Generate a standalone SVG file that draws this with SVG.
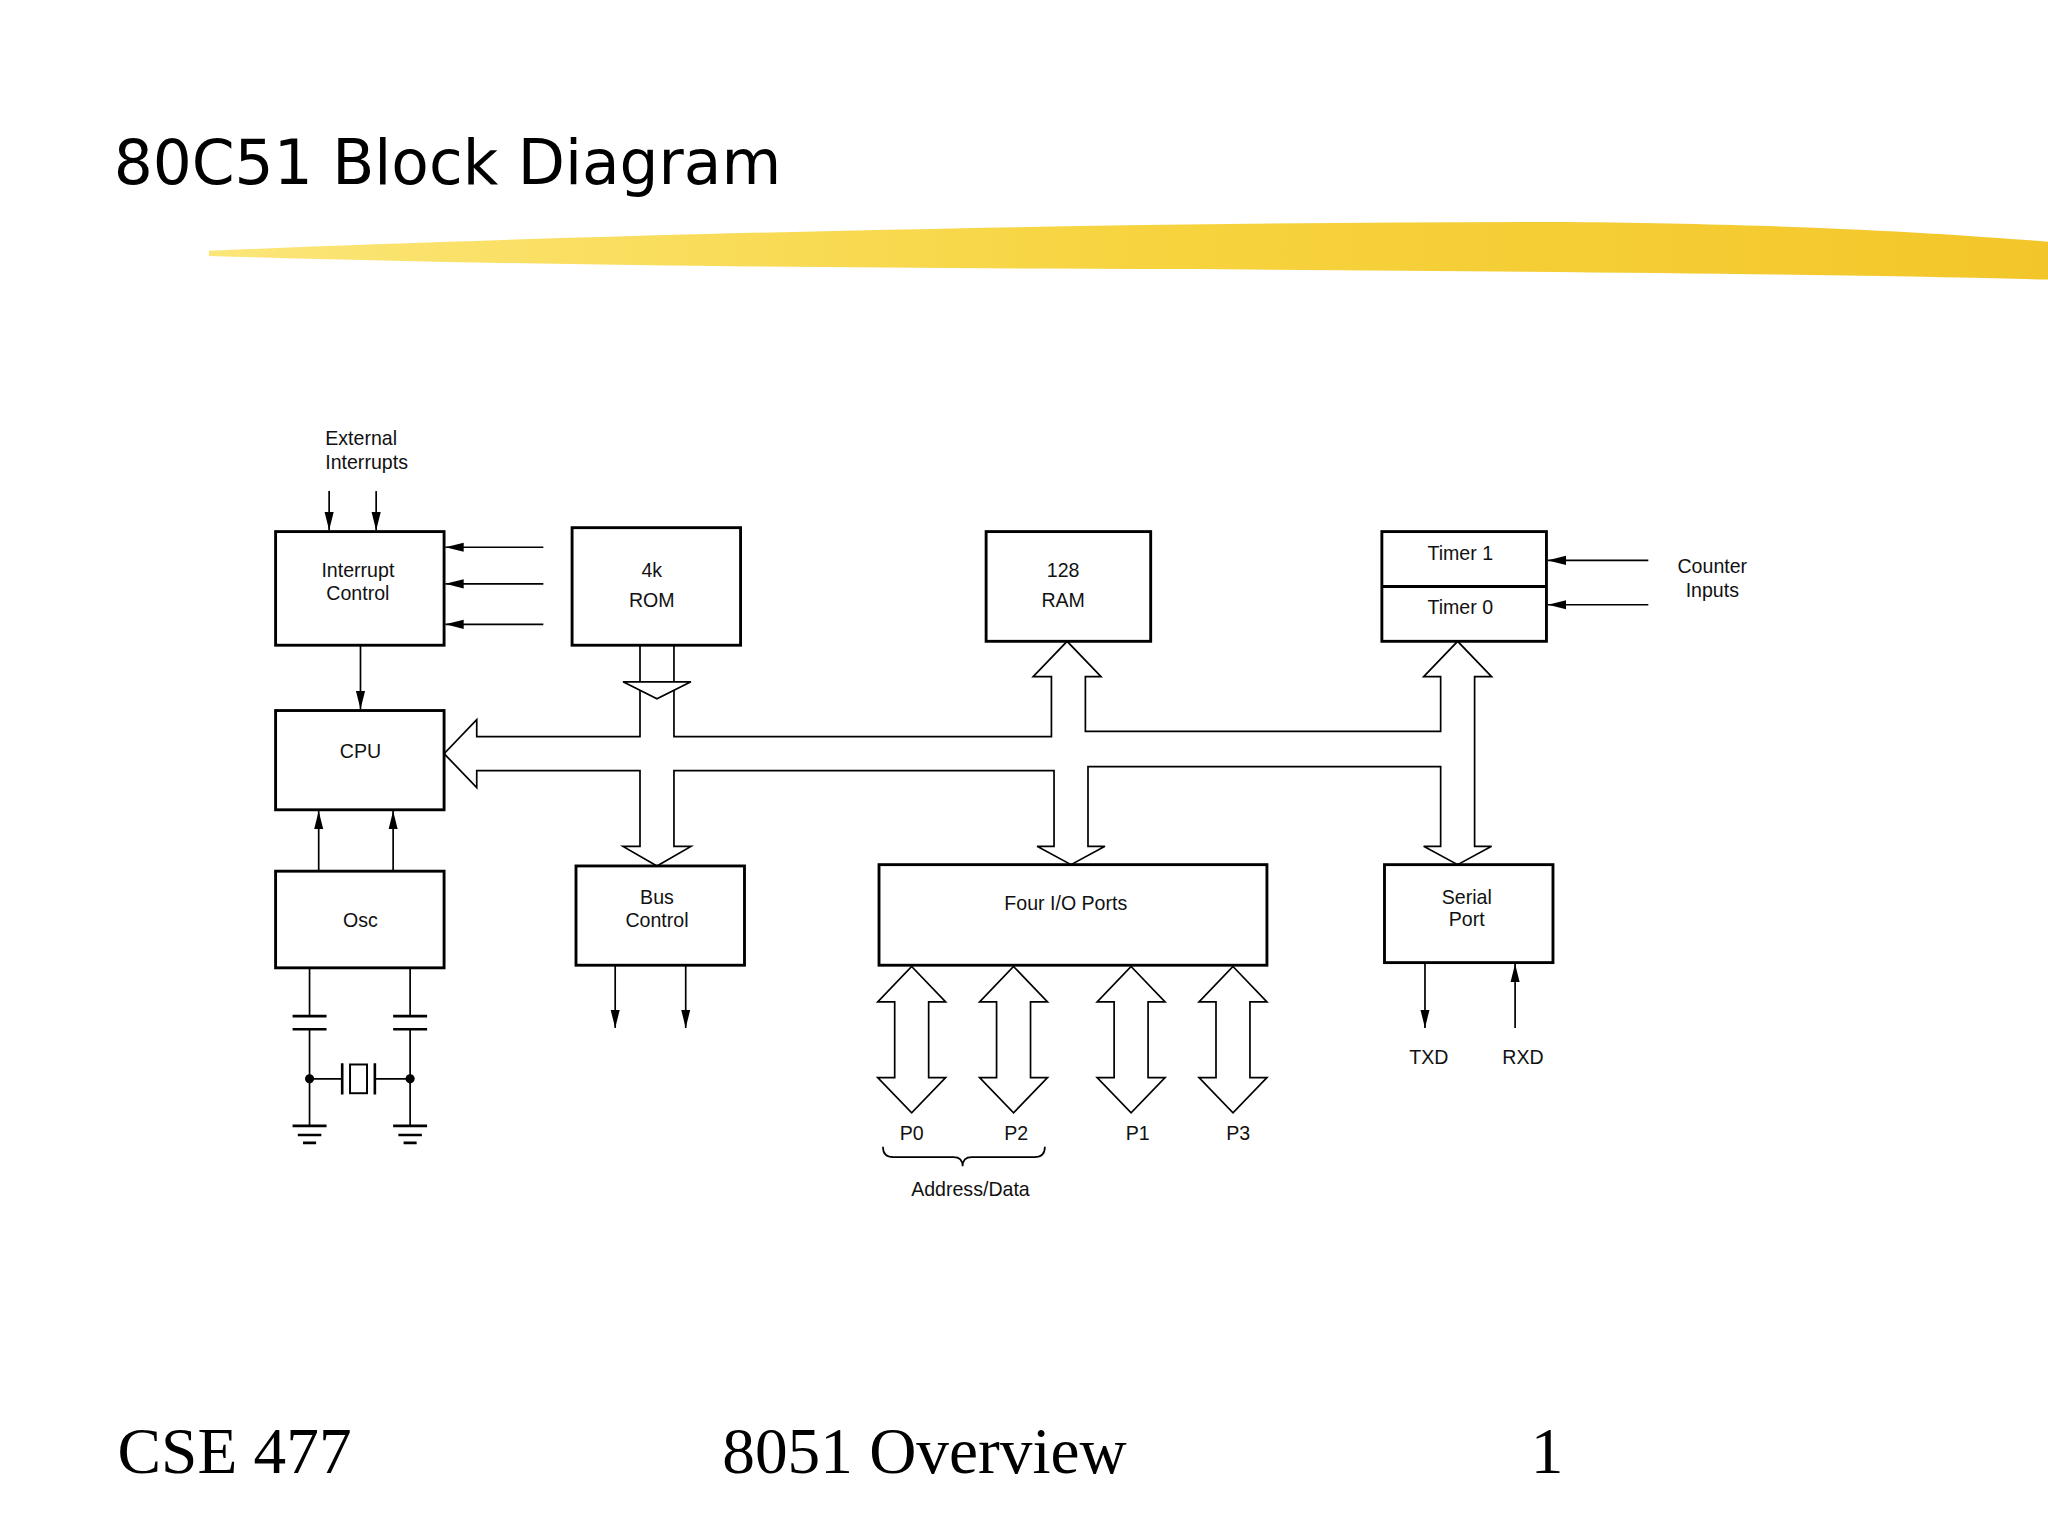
<svg xmlns="http://www.w3.org/2000/svg" width="2048" height="1535" viewBox="0 0 2048 1535">
<style>
.b{fill:#fff;stroke:#000;stroke-width:2.2}
.l{fill:none;stroke:#000;stroke-width:1.3}
.h{fill:#fff;stroke:#000;stroke-width:1.3}
.t{font-family:"Liberation Sans",Arial,sans-serif;font-size:15px;text-anchor:middle;fill:#111}
.f{font-family:"Liberation Serif","Times New Roman",serif;font-size:50px;fill:#000}
</style>
<defs>
<marker id="a" viewBox="0 0 14 8" refX="14" refY="4" markerWidth="14" markerHeight="8" orient="auto" markerUnits="userSpaceOnUse"><path d="M0,0.5 L14,4 L0,7.5 Z" fill="#000"/></marker>
<linearGradient id="y" x1="0" x2="1"><stop offset="0" stop-color="#fbe36a"/><stop offset="0.5" stop-color="#f6cf2a"/><stop offset="1" stop-color="#f1c012"/></linearGradient>
</defs>
<rect width="2048" height="1535" fill="#fff"/>
<g transform="scale(1.30612)">
<text x="87" y="141" style="font-family:'DejaVu Sans',sans-serif;font-size:47px" fill="#000">80C51 Block Diagram</text>
<path d="M160,192 C400,182 800,170 1200,170 C1400,172 1500,180 1568,185 L1568,214 C1400,210 1200,208 900,206 C600,205 400,203 160,196 Z" fill="url(#y)" opacity="0.9"/>
<text class="f" x="90" y="1128">CSE 477</text>
<text class="f" x="553" y="1128">8051 Overview</text>
<text class="f" x="1172" y="1128">1</text>

<g id="connectors">
<line class="l" x1="252" y1="376" x2="252" y2="406" marker-end="url(#a)"/>
<line class="l" x1="288" y1="376" x2="288" y2="406" marker-end="url(#a)"/>
<line class="l" x1="416" y1="419" x2="341" y2="419" marker-end="url(#a)"/>
<line class="l" x1="416" y1="447" x2="341" y2="447" marker-end="url(#a)"/>
<line class="l" x1="416" y1="478" x2="341" y2="478" marker-end="url(#a)"/>
<line class="l" x1="276" y1="494" x2="276" y2="543" marker-end="url(#a)"/>
<line class="l" x1="244" y1="667" x2="244" y2="621" marker-end="url(#a)"/>
<line class="l" x1="301" y1="667" x2="301" y2="621" marker-end="url(#a)"/>
<line class="l" x1="471" y1="739" x2="471" y2="787" marker-end="url(#a)"/>
<line class="l" x1="525" y1="739" x2="525" y2="787" marker-end="url(#a)"/>
<line class="l" x1="1091" y1="737" x2="1091" y2="787" marker-end="url(#a)"/>
<line class="l" x1="1160" y1="787" x2="1160" y2="738" marker-end="url(#a)"/>
<line class="l" x1="1262" y1="429" x2="1185" y2="429" marker-end="url(#a)"/>
<line class="l" x1="1262" y1="463" x2="1185" y2="463" marker-end="url(#a)"/>
<path class="l" d="M490,494 V564 H365 V551 L340,577 L365,603 V590 H490 V648 H477 L503,663 L529,648 H516 V590 H807 V648 H794 L820,662 L846,648 H833 V587 H1103 V648 H1090 L1116,662 L1142,648 H1129 V518 H1142 L1116,491 L1090,518 H1103 V560 H831 V518 H843 L817,491 L791,518 H805 V564 H516 V494"/>
<path class="h" d="M477,522 H529 L503,535 Z"/>
<g id="ports">
<path class="h" d="M698,740 L724,767 H711 V825 H724 L698,852 L672,825 H685 V767 H672 Z"/>
<path class="h" d="M776,740 L802,767 H789 V825 H802 L776,852 L750,825 H763 V767 H750 Z"/>
<path class="h" d="M866,740 L892,767 H879 V825 H892 L866,852 L840,825 H853 V767 H840 Z"/>
<path class="h" d="M944,740 L970,767 H957 V825 H970 L944,852 L918,825 H931 V767 H918 Z"/>
</g>
<path class="l" d="M676,878 Q676,886 684,886 H730 Q737,886 737,893 Q737,886 744,886 H792 Q800,886 800,878"/>
<path class="l" d="M237,741 V778 M237,788 V862 M314,741 V778 M314,788 V862 M237,826 H262 M287,826 H314"/>
<path class="l" style="stroke-width:2" d="M224,778 H250 M224,788 H250 M301,778 H327 M301,788 H327 M262,814 V838 M287,814 V838 M224,862 H250 M228,869 H246 M232,875 H242 M301,862 H327 M305,869 H323 M309,875 H319"/>
<rect x="268" y="815" width="13" height="22" fill="none" stroke="#000" stroke-width="1.5"/>
<circle cx="237" cy="826" r="3.5"/><circle cx="314" cy="826" r="3.5"/>
</g>

<g id="interrupt"><rect class="b" x="211" y="407" width="129" height="87"/><text class="t" x="274" y="442">Interrupt</text><text class="t" x="274" y="459">Control</text></g>
<g id="rom"><rect class="b" x="438" y="404" width="129" height="90"/><text class="t" x="499" y="442">4k</text><text class="t" x="499" y="465">ROM</text></g>
<g id="ram"><rect class="b" x="755" y="407" width="126" height="84"/><text class="t" x="814" y="442">128</text><text class="t" x="814" y="465">RAM</text></g>
<g id="timers"><rect class="b" x="1058" y="407" width="126" height="84"/><line class="b" x1="1058" y1="449" x2="1184" y2="449"/><text class="t" x="1118" y="429">Timer 1</text><text class="t" x="1118" y="470">Timer 0</text></g>
<g id="cpu"><rect class="b" x="211" y="544" width="129" height="76"/><text class="t" x="276" y="580">CPU</text></g>
<g id="osc"><rect class="b" x="211" y="667" width="129" height="74"/><text class="t" x="276" y="710">Osc</text></g>
<g id="buscontrol"><rect class="b" x="441" y="663" width="129" height="76"/><text class="t" x="503" y="692">Bus</text><text class="t" x="503" y="710">Control</text></g>
<g id="io"><rect class="b" x="673" y="662" width="297" height="77"/><text class="t" x="816" y="697">Four I/O Ports</text></g>
<g id="serial"><rect class="b" x="1060" y="662" width="129" height="75"/><text class="t" x="1123" y="692">Serial</text><text class="t" x="1123" y="709">Port</text></g>

<g id="labels">
<text class="t" x="249" y="341" style="text-anchor:start">External</text>
<text class="t" x="249" y="359" style="text-anchor:start">Interrupts</text>
<text class="t" x="1311" y="439">Counter</text><text class="t" x="1311" y="457">Inputs</text>
<text class="t" x="1094" y="815">TXD</text><text class="t" x="1166" y="815">RXD</text>
<text class="t" x="698" y="873">P0</text><text class="t" x="778" y="873">P2</text><text class="t" x="871" y="873">P1</text><text class="t" x="948" y="873">P3</text>
<text class="t" x="743" y="916">Address/Data</text>
</g>
</g>
</svg>
